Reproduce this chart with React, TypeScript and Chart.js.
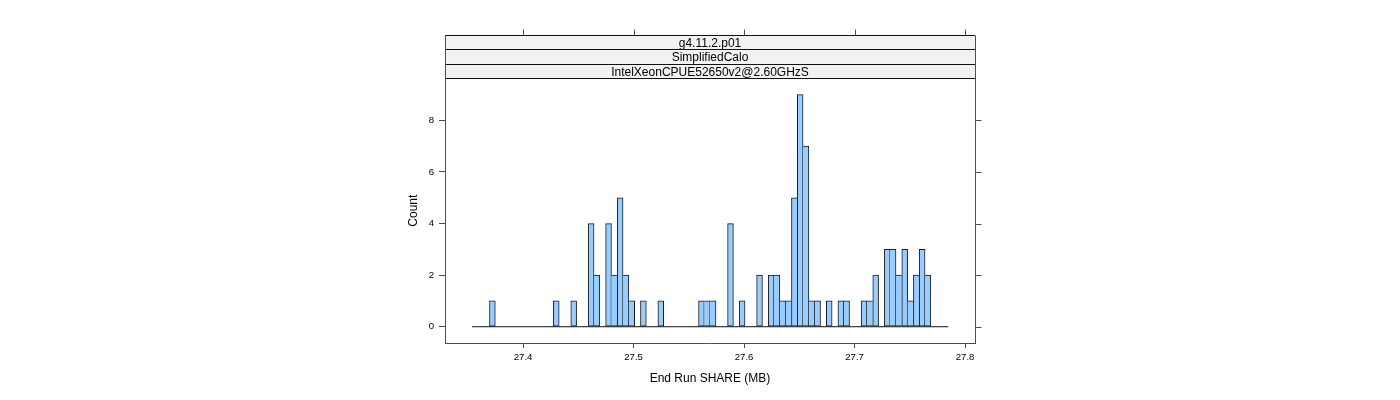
import React, { useEffect, useRef } from "react";
import { Chart, registerables } from "chart.js";

Chart.register(...registerables);

// ---- data ----
const stripLabels = ["g4.11.2.p01", "SimplifiedCalo", "IntelXeonCPUE52650v2@2.60GHzS"];
const xTitle = "End Run SHARE (MB)";
const yTitle = "Count";
const xTicks = [27.4, 27.5, 27.6, 27.7, 27.8];
const yTicks = [0, 2, 4, 6, 8];
// histogram breaks: first / last break, 82 equal bins
const breakStart = 27.3538;
const breakEnd = 27.7848;
const counts = [
  0, 0, 0, 1, 0, 0, 0, 0, 0, 0,
  0, 0, 0, 0, 1, 0, 0, 1, 0, 0,
  4, 2, 0, 4, 2, 5, 2, 1, 0, 1,
  0, 0, 1, 0, 0, 0, 0, 0, 0, 1,
  1, 1, 0, 0, 4, 0, 1, 0, 0, 2,
  0, 2, 2, 1, 1, 5, 9, 7, 1, 1,
  0, 1, 0, 1, 1, 0, 0, 1, 1, 2,
  0, 3, 3, 2, 3, 1, 2, 3, 2, 0,
  0, 0,
];
const xLimits = [27.3293, 27.809];
const yLimits = [-0.63, 9.63];

const FONT = '"Liberation Sans", Arial, Helvetica, sans-serif';
const AXIS_COL = "#4d4d4d";

const latticePlugin = {
  id: "latticeFrame",
  afterDraw(chart: any) {
    const { ctx, chartArea } = chart;
    const { left, right, top, bottom } = chartArea;
    const xs = chart.scales.x;
    const ys = chart.scales.y;
    const stripH = 14.53;
    const n = stripLabels.length;
    const stripTop = top - n * stripH;
    ctx.save();
    // strips
    for (let i = 0; i < n; i++) {
      const y0 = stripTop + i * stripH;
      ctx.fillStyle = "#F2F2F2";
      ctx.fillRect(left, y0, right - left, stripH);
      ctx.fillStyle = "#000";
      ctx.font = `12px ${FONT}`;
      ctx.textAlign = "center";
      ctx.textBaseline = "middle";
      ctx.fillText(stripLabels[i], (left + right) / 2, y0 + stripH / 2 + 1.3);
    }
    ctx.strokeStyle = "#111";
    ctx.lineWidth = 1;
    for (let i = 0; i <= n; i++) {
      const yy = Math.round(stripTop + i * stripH) + 0.5;
      ctx.beginPath();
      ctx.moveTo(left, yy);
      ctx.lineTo(right, yy);
      ctx.stroke();
    }
    // outer frame (left/right through the strips)
    ctx.strokeStyle = AXIS_COL;
    const lx = Math.round(left) + 0.5;
    const rx = Math.round(right) + 0.5;
    const ty = Math.round(stripTop) + 0.5;
    const by = Math.round(bottom) + 0.5;
    ctx.beginPath();
    ctx.moveTo(lx, ty);
    ctx.lineTo(lx, by);
    ctx.moveTo(rx, ty);
    ctx.lineTo(rx, by);
    ctx.stroke();
    // top ticks
    ctx.beginPath();
    for (const v of xTicks) {
      const px = Math.round(xs.getPixelForValue(v)) + 0.5;
      ctx.moveTo(px, ty - 6);
      ctx.lineTo(px, ty);
    }
    // right ticks
    for (const v of yTicks) {
      const py = Math.round(ys.getPixelForValue(v)) + 0.5;
      ctx.moveTo(rx, py);
      ctx.lineTo(rx + 6, py);
    }
    ctx.stroke();
    ctx.restore();
  },
};

export default function App() {
  const ref = useRef<HTMLCanvasElement | null>(null);
  useEffect(() => {
    document.body.style.margin = "0";
    const canvas = ref.current;
    if (!canvas) return;
    const binWidth = (breakEnd - breakStart) / counts.length;
    const barData = counts.map((c, i) => ({ x: breakStart + (i + 0.5) * binWidth, y: c }));
    const edgeWidth = (ctx: any) => {
      const i = ctx.dataIndex;
      const c = counts[i];
      const prev = i > 0 ? counts[i - 1] : 0;
      const next = i < counts.length - 1 ? counts[i + 1] : 0;
      return { top: 1, bottom: 1, left: prev < c ? 1 : 0, right: next <= c ? 1 : 0 };
    };
    const chart = new Chart(canvas, {
      type: "bar",
      data: {
        datasets: [
          {
            type: "bar",
            data: barData as any,
            backgroundColor: "#99CCFF",
            borderColor: "#1a1a1a",
            borderWidth: edgeWidth as any,
            borderSkipped: false,
            barPercentage: 1,
            categoryPercentage: 1,
            order: 2,
          },
          {
            type: "line",
            data: [
              { x: breakStart, y: 0 },
              { x: breakEnd, y: 0 },
            ] as any,
            borderColor: "#111",
            borderWidth: 1,
            pointRadius: 0,
            order: 1,
          },
        ],
      },
      options: {
        responsive: false,
        animation: false,
        events: [],
        layout: { padding: { left: 402, right: 425, top: 78.3, bottom: 10 } },
        plugins: { legend: { display: false }, tooltip: { enabled: false } },
        scales: {
          x: {
            type: "linear",
            position: "bottom",
            min: xLimits[0],
            max: xLimits[1],
            offset: false,
            afterBuildTicks: (s: any) => {
              s.ticks = xTicks.map((v) => ({ value: v }));
            },
            afterFit: (s: any) => {
              s.height = 47;
            },
            ticks: {
              autoSkip: false,
              maxRotation: 0,
              padding: 4,
              color: "#000",
              font: { family: FONT, size: 9.6 },
              callback: (v: any) => Number(v).toFixed(1),
            },
            grid: {
              display: true,
              drawOnChartArea: false,
              drawTicks: true,
              tickLength: 5,
              tickColor: AXIS_COL,
              offset: false,
            },
            border: { display: true, color: AXIS_COL, width: 1 },
            title: {
              display: true,
              text: xTitle,
              color: "#000",
              font: { family: FONT, size: 12 },
              padding: { top: 0, bottom: 4 },
            },
          },
          y: {
            type: "linear",
            position: "left",
            min: yLimits[0],
            max: yLimits[1],
            afterBuildTicks: (s: any) => {
              s.ticks = yTicks.map((v) => ({ value: v }));
            },
            afterFit: (s: any) => {
              s.width = 43;
            },
            ticks: {
              autoSkip: false,
              padding: 5,
              color: "#000",
              font: { family: FONT, size: 9.6 },
              callback: (v: any) => String(v),
            },
            grid: {
              display: true,
              drawOnChartArea: false,
              drawTicks: true,
              tickLength: 6,
              tickColor: AXIS_COL,
            },
            border: { display: true, color: AXIS_COL, width: 1 },
            title: {
              display: true,
              text: yTitle,
              color: "#000",
              font: { family: FONT, size: 12 },
              padding: { top: 4, bottom: 0 },
            },
          },
        },
      },
      plugins: [latticePlugin],
    });
    return () => chart.destroy();
  }, []);
  return (
    <div style={{ width: 1400, height: 400 }}>
      <canvas ref={ref} width={1400} height={400} style={{ display: "block" }} />
    </div>
  );
}
